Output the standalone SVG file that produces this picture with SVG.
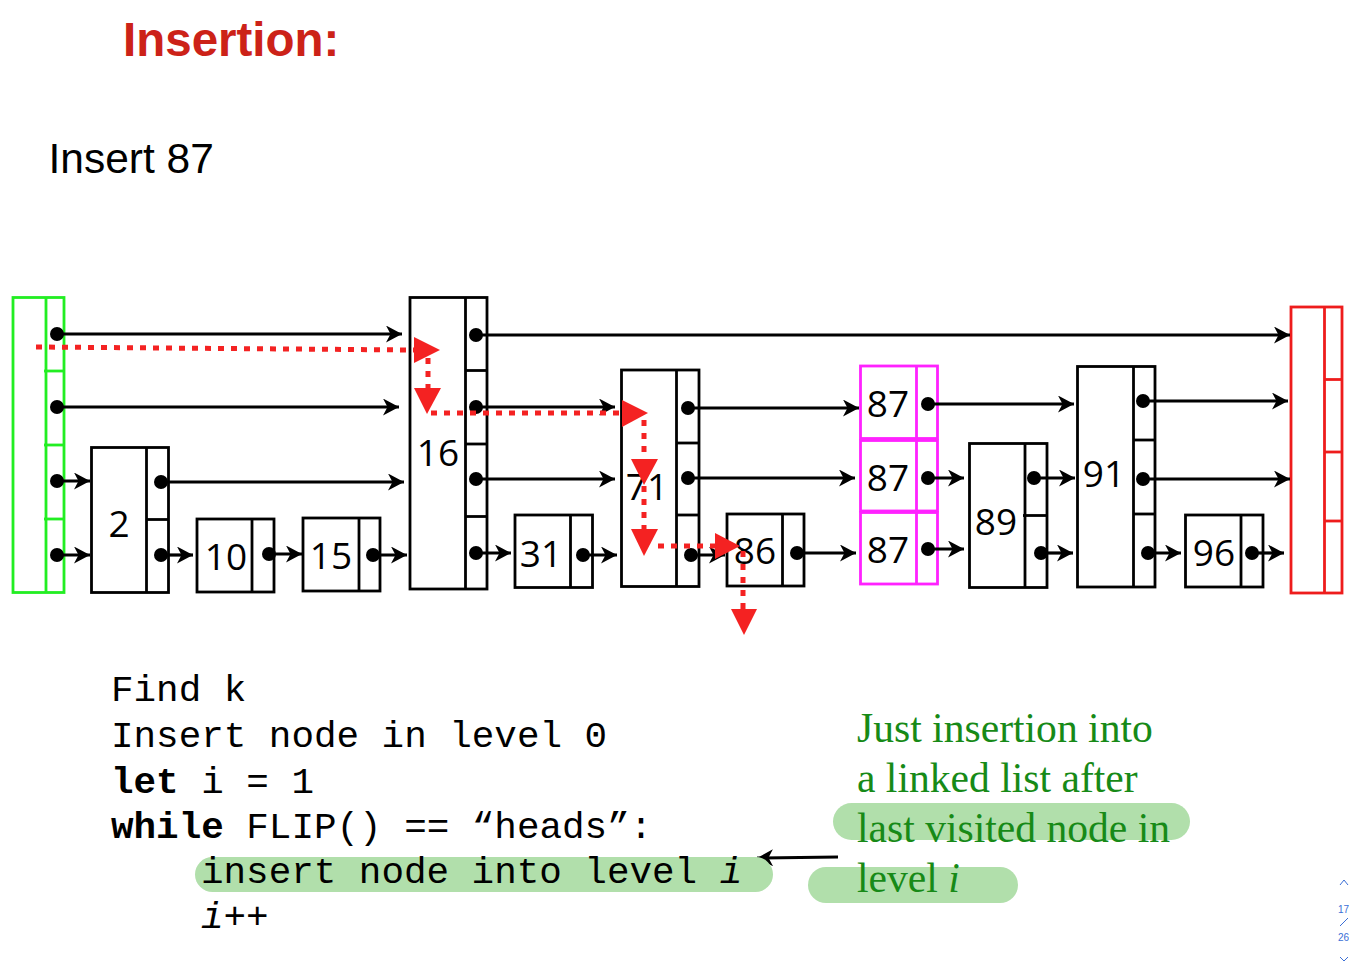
<svg xmlns="http://www.w3.org/2000/svg" width="1349" height="963" viewBox="0 0 1349 963">
<style>
.box{fill:#fff;stroke:#000;stroke-width:2.8}
.ln{stroke:#000;stroke-width:2.8;fill:none}
.hd{fill:#fff;stroke:#22ee22;stroke-width:2.8}
.hdl{stroke:#22ee22;stroke-width:2.8}
.tl{fill:#fff;stroke:#ee1c1c;stroke-width:2.8}
.tll{stroke:#ee1c1c;stroke-width:2.8}
.mg{fill:#fff;stroke:#ff22ff;stroke-width:2.8}
.mgl{stroke:#ff22ff;stroke-width:2.8}
.num{font-family:"Open Sans","Noto Sans",sans-serif;font-size:37px;fill:#000;text-anchor:middle}
.dot{fill:#000}
.ptr{stroke:#000;stroke-width:3.2;fill:none;marker-end:url(#ah)}
.red{stroke:#f42222;stroke-width:5;stroke-dasharray:6 7;fill:none}
.redh{fill:#f42222}
.code{font-family:"Liberation Mono","Courier New",monospace;font-size:37.6px;fill:#000}
.note{font-family:"Liberation Serif","Times New Roman",serif;font-size:41.6px;fill:#178a17}
.hl{fill:#b1dfab}
.pg{font-family:"Liberation Sans",Arial,sans-serif;font-size:10px;fill:#3b6fd6}
</style>
<defs>
<marker id="ah" markerUnits="userSpaceOnUse" markerWidth="18" markerHeight="18" refX="16" refY="8.5" orient="auto">
<path d="M0,0 L16,8.5 L0,17 L4.5,8.5 Z" fill="#000"/>
</marker>
</defs>
<rect width="1349" height="963" fill="#fff"/>

<text x="123" y="56" font-family="Liberation Sans,Arial,sans-serif" font-size="47.5" font-weight="bold" fill="#cc2218">Insertion:</text>
<text x="48.5" y="173" font-family="Liberation Sans,Arial,sans-serif" font-size="42.5" fill="#000">Insert 87</text>

<g id="head">
<rect class="hd" x="13" y="297.5" width="51" height="295"/>
<line class="hdl" x1="46" y1="297.5" x2="46" y2="592.5"/>
<line class="hdl" x1="44" y1="371" x2="64" y2="371"/>
<line class="hdl" x1="44" y1="445" x2="64" y2="445"/>
<line class="hdl" x1="44" y1="519" x2="64" y2="519"/>
</g>
<g id="n2">
<rect class="box" x="91.5" y="447.5" width="77" height="145"/>
<line class="ln" x1="146.5" y1="447.5" x2="146.5" y2="592.5"/>
<line class="ln" x1="146.5" y1="519.5" x2="168.5" y2="519.5"/>
<text class="num" x="119" y="537">2</text>
</g>
<g id="n10">
<rect class="box" x="197" y="519" width="77" height="73"/>
<line class="ln" x1="252" y1="519" x2="252" y2="592"/>
<text class="num" x="226" y="570">10</text>
</g>
<g id="n15">
<rect class="box" x="303" y="518" width="77" height="73"/>
<line class="ln" x1="359" y1="518" x2="359" y2="591"/>
<text class="num" x="331" y="569">15</text>
</g>
<g id="n16">
<rect class="box" x="410" y="297.5" width="77" height="291.5"/>
<line class="ln" x1="465.5" y1="297.5" x2="465.5" y2="589"/>
<line class="ln" x1="465.5" y1="370.5" x2="487" y2="370.5"/>
<line class="ln" x1="465.5" y1="444" x2="487" y2="444"/>
<line class="ln" x1="465.5" y1="516.5" x2="487" y2="516.5"/>
<text class="num" x="438" y="466">16</text>
</g>
<g id="n31">
<rect class="box" x="515" y="515" width="77.5" height="72.5"/>
<line class="ln" x1="570.5" y1="515" x2="570.5" y2="587.5"/>
<text class="num" x="541" y="567">31</text>
</g>
<g id="n71">
<rect class="box" x="621.5" y="370" width="77.5" height="216.5"/>
<line class="ln" x1="676.5" y1="370" x2="676.5" y2="586.5"/>
<line class="ln" x1="676.5" y1="443" x2="699" y2="443"/>
<line class="ln" x1="676.5" y1="515" x2="699" y2="515"/>
<text class="num" x="647" y="500">71</text>
</g>
<g id="n86">
<rect class="box" x="727" y="514" width="77" height="72"/>
<line class="ln" x1="782.5" y1="514" x2="782.5" y2="586"/>
<text class="num" x="755" y="564">86</text>
</g>
<g id="n87">
<rect class="mg" x="860.5" y="366" width="77" height="72.5"/>
<rect class="mg" x="860.5" y="440.5" width="77" height="70.5"/>
<rect class="mg" x="860.5" y="512.5" width="77" height="71.5"/>
<line class="mgl" x1="916.5" y1="366" x2="916.5" y2="584"/>
<text class="num" x="888" y="417">87</text>
<text class="num" x="888" y="491">87</text>
<text class="num" x="888" y="563">87</text>
</g>
<g id="n89">
<rect class="box" x="969.5" y="443.5" width="77.5" height="144"/>
<line class="ln" x1="1025" y1="443.5" x2="1025" y2="587.5"/>
<line class="ln" x1="1023" y1="515.5" x2="1047" y2="515.5"/>
<text class="num" x="996" y="535">89</text>
</g>
<g id="n91">
<rect class="box" x="1077.5" y="366.5" width="77.5" height="220.5"/>
<line class="ln" x1="1133.5" y1="366.5" x2="1133.5" y2="587"/>
<line class="ln" x1="1133.5" y1="440" x2="1155" y2="440" stroke-width="3.5"/>
<line class="ln" x1="1133.5" y1="514" x2="1155" y2="514" stroke-width="3.5"/>
<text class="num" x="1104" y="487">91</text>
</g>
<g id="n96">
<rect class="box" x="1185.5" y="515" width="77.5" height="72"/>
<line class="ln" x1="1241" y1="515" x2="1241" y2="587"/>
<text class="num" x="1214" y="566">96</text>
</g>
<g id="tail">
<rect class="tl" x="1291" y="307" width="51" height="286"/>
<line class="tll" x1="1324.5" y1="307" x2="1324.5" y2="593"/>
<line class="tll" x1="1324.5" y1="379.5" x2="1342" y2="379.5"/>
<line class="tll" x1="1324.5" y1="452" x2="1342" y2="452"/>
<line class="tll" x1="1324.5" y1="521" x2="1342" y2="521"/>
</g>

<g id="connectors">
<line class="ptr" x1="57" y1="334" x2="402" y2="334"/>
<line class="ptr" x1="57" y1="407" x2="399" y2="407"/>
<line class="ptr" x1="57" y1="481" x2="90" y2="481"/>
<line class="ptr" x1="57" y1="555" x2="90" y2="555"/>
<line class="ptr" x1="161" y1="482" x2="404" y2="482"/>
<line class="ptr" x1="161" y1="555" x2="193" y2="555"/>
<line class="ptr" x1="269" y1="554" x2="302" y2="554"/>
<line class="ptr" x1="373" y1="555" x2="407" y2="555"/>
<line class="ptr" x1="476" y1="335" x2="1290" y2="335"/>
<line class="ptr" x1="476" y1="407" x2="615" y2="407"/>
<line class="ptr" x1="476" y1="479" x2="615" y2="479"/>
<line class="ptr" x1="476" y1="553" x2="511" y2="553"/>
<line class="ptr" x1="583" y1="555" x2="617" y2="555"/>
<line class="ptr" x1="688" y1="408" x2="859" y2="408"/>
<line class="ptr" x1="688" y1="478" x2="855" y2="478"/>
<line class="ptr" x1="691" y1="555" x2="725" y2="555"/>
<line class="ptr" x1="797" y1="553" x2="856" y2="553"/>
<line class="ptr" x1="928" y1="404" x2="1074" y2="404"/>
<line class="ptr" x1="928" y1="478" x2="964" y2="478"/>
<line class="ptr" x1="928" y1="549" x2="964" y2="549"/>
<line class="ptr" x1="1034" y1="478" x2="1075" y2="478"/>
<line class="ptr" x1="1041" y1="553" x2="1073" y2="553"/>
<line class="ptr" x1="1143" y1="401" x2="1288" y2="401"/>
<line class="ptr" x1="1143" y1="479" x2="1290" y2="479"/>
<line class="ptr" x1="1148" y1="553" x2="1181" y2="553"/>
<line class="ptr" x1="1252" y1="553" x2="1284" y2="553"/>
<g class="dot">
<circle cx="57" cy="334" r="7"/><circle cx="57" cy="407" r="7"/><circle cx="57" cy="481" r="7"/><circle cx="57" cy="555" r="7"/>
<circle cx="161" cy="482" r="7"/><circle cx="161" cy="555" r="7"/>
<circle cx="269" cy="554" r="7"/><circle cx="373" cy="555" r="7"/>
<circle cx="476" cy="335" r="7"/><circle cx="476" cy="407" r="7"/><circle cx="476" cy="479" r="7"/><circle cx="476" cy="553" r="7"/>
<circle cx="583" cy="555" r="7"/>
<circle cx="688" cy="408" r="7"/><circle cx="688" cy="478" r="7"/><circle cx="691" cy="555" r="7"/>
<circle cx="797" cy="553" r="7"/>
<circle cx="928" cy="404" r="7"/><circle cx="928" cy="478" r="7"/><circle cx="928" cy="549" r="7"/>
<circle cx="1034" cy="478" r="7"/><circle cx="1041" cy="553" r="7"/>
<circle cx="1143" cy="401" r="7"/><circle cx="1143" cy="479" r="7"/><circle cx="1148" cy="553" r="7"/>
<circle cx="1252" cy="553" r="7"/>
</g>
<g id="search-path">
<line class="red" x1="36" y1="347" x2="414" y2="350"/>
<polygon class="redh" points="414,337 440,350 414,363"/>
<line class="red" x1="428" y1="358" x2="428" y2="388"/>
<polygon class="redh" points="414,388 441,388 427,414"/>
<line class="red" x1="431" y1="413" x2="622" y2="413"/>
<polygon class="redh" points="622,400 648,413 622,427"/>
<line class="red" x1="644" y1="420" x2="644" y2="459"/>
<polygon class="redh" points="631,459 658,459 644,485"/>
<line class="red" x1="644" y1="486" x2="644" y2="529"/>
<polygon class="redh" points="631,529 658,529 644,556"/>
<line class="red" x1="658" y1="546" x2="715" y2="546"/>
<polygon class="redh" points="715,533 740,546 715,559"/>
<line class="red" x1="743" y1="551" x2="743" y2="609"/>
<polygon class="redh" points="731,609 757,609 744,635"/>
</g>
<line x1="838" y1="857" x2="757" y2="858" stroke="#000" stroke-width="3" marker-end="url(#ah)"/>
</g>

<g id="code">
<rect class="hl" x="195" y="857" width="578" height="35" rx="17.5"/>
<text class="code" x="111" y="701">Find k</text>
<text class="code" x="111" y="747">Insert node in level 0</text>
<text class="code" x="111" y="793"><tspan font-weight="bold">let</tspan> i = 1</text>
<text class="code" x="111" y="838"><tspan font-weight="bold">while</tspan> FLIP() == “heads”:</text>
<text class="code" x="201" y="883">insert node into level <tspan font-style="italic">i</tspan></text>
<text class="code" x="201" y="928"><tspan font-style="italic">i</tspan>++</text>
</g>

<g id="note">
<rect class="hl" x="833" y="803" width="357" height="37" rx="18.5"/>
<rect class="hl" x="808" y="867" width="210" height="36" rx="18"/>
<text class="note" x="857" y="742">Just insertion into</text>
<text class="note" x="857" y="792">a linked list after</text>
<text class="note" x="857" y="842">last visited node in</text>
<text class="note" x="857" y="892">level <tspan font-style="italic">i</tspan></text>
</g>

<g id="pager">
<polyline points="1340,885 1344,880 1348,885" fill="none" stroke="#3b6fd6" stroke-width="1"/>
<text class="pg" x="1338" y="913">17</text>
<line x1="1340" y1="926" x2="1348" y2="918" stroke="#3b6fd6" stroke-width="1"/>
<text class="pg" x="1338" y="941">26</text>
<polyline points="1340,957 1344,961 1348,957" fill="none" stroke="#3b6fd6" stroke-width="1"/>
</g>
</svg>
